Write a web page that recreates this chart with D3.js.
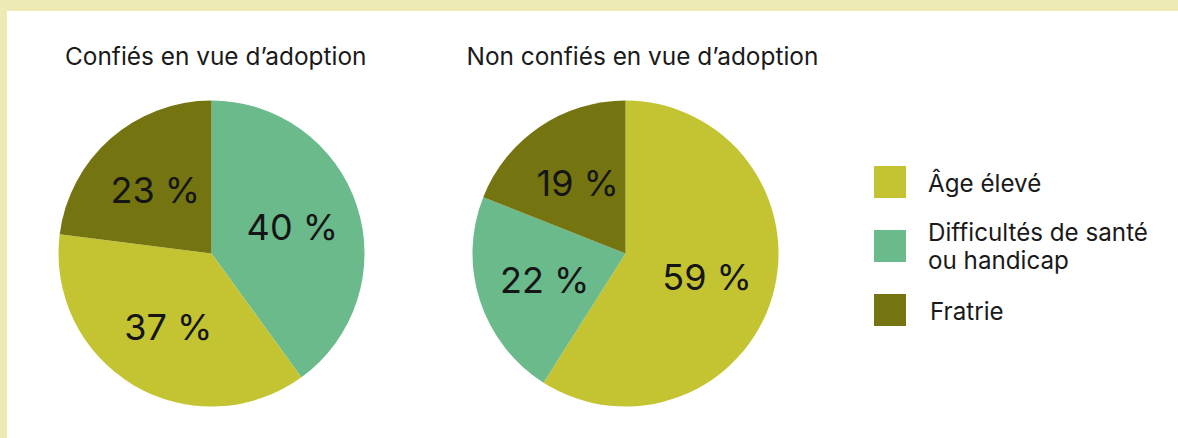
<!DOCTYPE html>
<html>
<head>
<meta charset="utf-8">
<script src="https://cdn.jsdelivr.net/npm/d3@7"></script>
<style>
  body { margin: 0; background: #edeab3; }
  svg { display: block; font-family: Inter, "Noto Sans", sans-serif; }
</style>
</head>
<body>
<svg id="chart"></svg>
<script>
const width = 1178, height = 438;

// data
const categories = ["Âge élevé", "Difficultés de santé ou handicap", "Fratrie"];
const legendLines = [["Âge élevé"], ["Difficultés de santé", "ou handicap"], ["Fratrie"]];
const colors = ["#c4c433", "#6aba8b", "#747511"];
const pieTitles = ["Confiés en vue d’adoption", "Non confiés en vue d’adoption"];
const confies = [37, 40, 23];     // by category
const nonConfies = [59, 22, 19];  // by category
// order of slices clockwise from 12 o'clock (index into categories)
const orderConfies = [1, 0, 2];
const orderNonConfies = [0, 1, 2];

const pies = [
  { title: pieTitles[0], values: confies, order: orderConfies, cx: 211.5, titleX: 65 },
  { title: pieTitles[1], values: nonConfies, order: orderNonConfies, cx: 625.5, titleX: 466.5 }
];

const radius = 153, cy = 253.5, labelR = 85;

const svg = d3.select('#chart')
  .attr('width', width)
  .attr('height', height);

// white panel
svg.append('rect').attr('x', 7).attr('y', 11)
  .attr('width', width - 7).attr('height', height - 11)
  .attr('fill', '#fff');

const pie = d3.pie().sort(null).value(d => d.value);
const arc = d3.arc().innerRadius(0).outerRadius(radius);
const labelArc = d3.arc().innerRadius(labelR).outerRadius(labelR);

pies.forEach(p => {
  const rows = p.order.map(i => ({ cat: i, value: p.values[i] }));
  const g = svg.append('g').attr('transform', `translate(${p.cx},${cy})`);

  g.selectAll('path')
    .data(pie(rows))
    .join('path')
    .attr('d', arc)
    .attr('fill', d => colors[d.data.cat]);

  g.selectAll('text')
    .data(pie(rows))
    .join('text')
    .attr('transform', d => `translate(${labelArc.centroid(d)})`)
    .attr('text-anchor', 'middle')
    .attr('dy', '0.36em')
    .style('font-size', '36px')
    .style('fill', '#151515')
    .text(d => d.data.value + ' %');

  svg.append('text')
    .attr('x', p.titleX).attr('y', 65)
    .style('font-size', '24.4px')
    .style('fill', '#1a1a1a')
    .text(p.title);
});

/* LEGEND */
const legendY = d3.scalePoint().domain(categories).range([166, 294]);
const legend = svg.append('g');
categories.forEach((c, i) => {
  const y = legendY(c);
  legend.append('rect')
    .attr('x', 874).attr('y', y)
    .attr('width', 32).attr('height', 32)
    .attr('fill', colors[i]);
  const t = legend.append('text')
    .attr('y', legendLines[i].length > 1 ? y + 10.5 : y + 25.5)
    .style('font-size', '24.2px')
    .style('fill', '#1a1a1a');
  legendLines[i].forEach((line, j) => {
    t.append('tspan').attr('x', i == 2 ? 930 : 928).attr('dy', j ? 28.5 : 0).text(line);
  });
});
</script>
</body>
</html>
